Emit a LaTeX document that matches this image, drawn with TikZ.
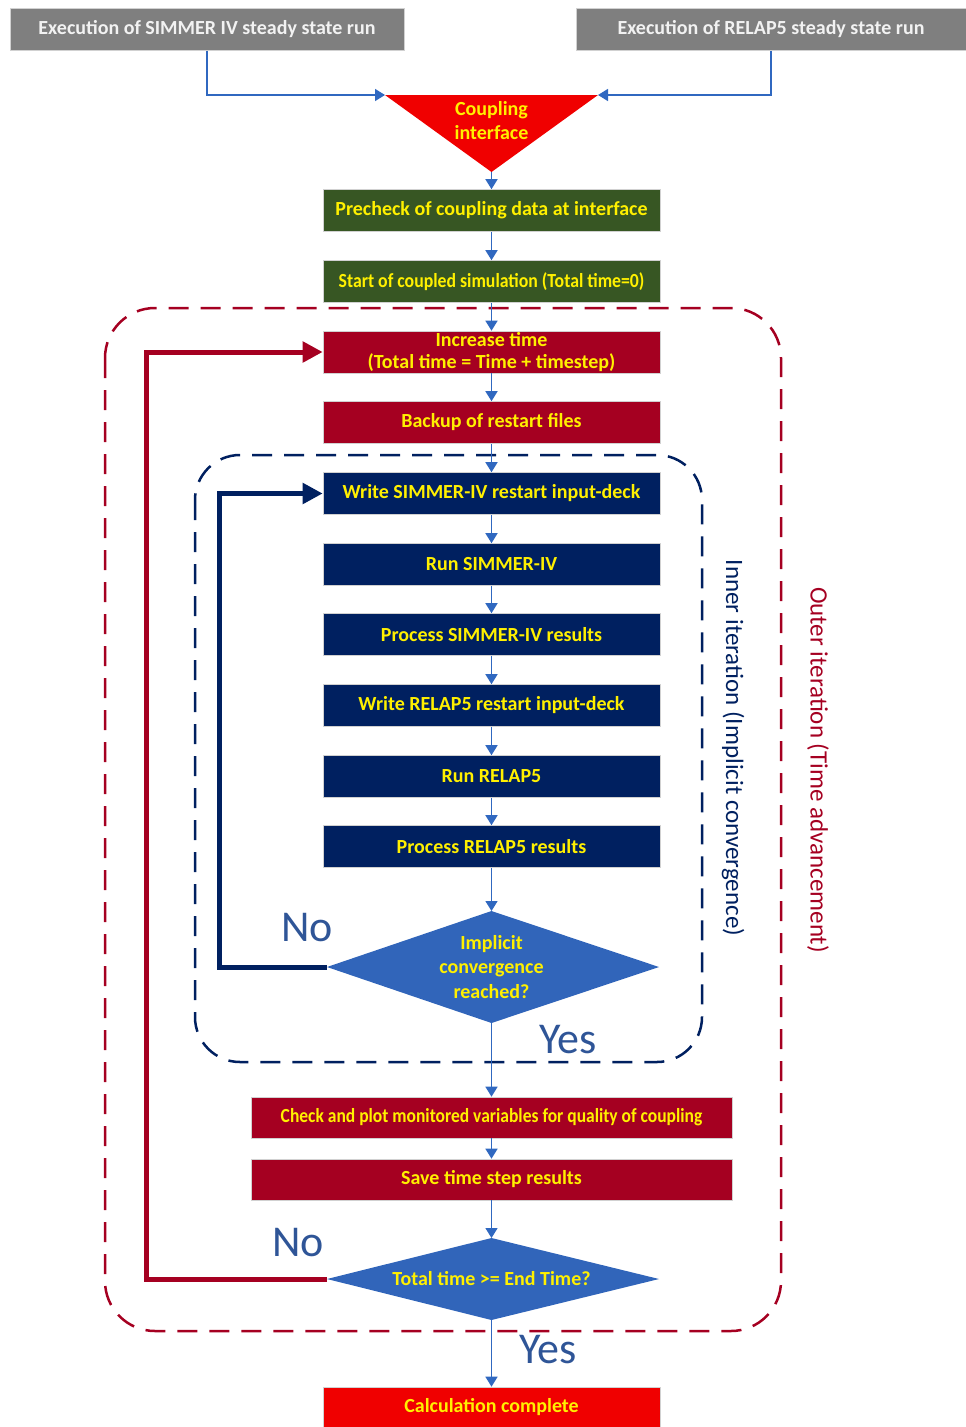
\documentclass[tikz,border=0pt]{standalone}
\usepackage{fontspec}
\setmainfont{Carlito}
\usetikzlibrary{arrows.meta}
\definecolor{grayb}{HTML}{7F7F7F}
\definecolor{graytxt}{HTML}{F2F2F2}
\definecolor{ylw}{HTML}{FFF000}
\definecolor{dgreen}{HTML}{375623}
\definecolor{dred}{HTML}{A50021}
\definecolor{navy}{HTML}{002060}
\definecolor{bred}{HTML}{F00000}
\definecolor{blin}{HTML}{3068C0}
\definecolor{dia}{HTML}{3165BA}
\definecolor{lbl}{HTML}{2F5597}
\begin{document}
\begin{tikzpicture}[x=1pt,y=-1pt,
  box/.style={rectangle, minimum width=337pt, minimum height=42pt, inner sep=0pt,
    text=ylw, font=\bfseries\fontsize{20}{22}\selectfont, align=center,
    draw=white!82!black, line width=0.6pt},
  flow/.style={draw=blin, line width=1.5pt, -{Triangle[width=12pt,length=10pt]}},
  loopn/.style={draw=navy, line width=5pt, -{Triangle[width=20pt,length=20pt]}},
  loopr/.style={draw=dred, line width=5pt, -{Triangle[width=20pt,length=20pt]}},
  yn/.style={text=lbl, font=\fontsize{44}{48}\selectfont, inner sep=0pt},
  dtext/.style={text=ylw, font=\bfseries\fontsize{20}{24.5}\selectfont, align=center, inner sep=0pt},
  side/.style={rotate=-90, font=\fontsize{25}{28}\selectfont, inner sep=0pt}
]
\useasboundingbox (0,0) rectangle (966,1427);

% frames
\draw[dred, line width=2.5pt, dash pattern=on 20pt off 12pt, rounded corners=50pt] (105,308) rectangle (781,1331);
\draw[navy, line width=2.5pt, dash pattern=on 20pt off 12pt, rounded corners=45pt] (195,455) rectangle (702,1062);

% top boxes
\node[box, fill=grayb, text=graytxt, minimum width=394pt] (s4) at (207,29.5) {Execution of SIMMER IV steady state run};
\node[box, fill=grayb, text=graytxt, minimum width=390pt] (r5) at (771,29.5) {Execution of RELAP5 steady state run};

% coupling triangle
\coordinate (tl) at (385,95);
\coordinate (tr) at (598,95);
\coordinate (tb) at (491.5,172);
\fill[bred] (tl) -- (tr) -- (tb) -- cycle;
\node[dtext, font=\bfseries\fontsize{20}{24}\selectfont] (ci) at (491.5,120.5) {Coupling\\interface};

\node[box, fill=dgreen] (g1) at (491.5,210.5) {Precheck of coupling data at interface};
\node[box, fill=dgreen] (g2) at (491.5,281.5) {\scalebox{0.887}[1]{Start of coupled simulation (Total time=0)}};
\node[box, fill=dred] (inc) at (491.5,352) {Increase time\\(Total time = Time + timestep)};
\node[box, fill=dred] (bak) at (491.5,422.5) {Backup of restart files};
\node[box, fill=navy] (w1) at (491.5,493.5) {Write SIMMER-IV restart input-deck};
\node[box, fill=navy] (run1) at (491.5,564.5) {Run SIMMER-IV};
\node[box, fill=navy] (p1) at (491.5,634.5) {Process SIMMER-IV results};
\node[box, fill=navy] (w2) at (491.5,705.5) {Write RELAP5 restart input-deck};
\node[box, fill=navy] (run2) at (491.5,776.5) {Run RELAP5};
\node[box, fill=navy] (p2) at (491.5,846.5) {Process RELAP5 results};

% diamond 1
\coordinate (d1t) at (491.5,911);
\coordinate (d1l) at (327,967);
\coordinate (d1r) at (659,967);
\coordinate (d1b) at (491.5,1023);
\fill[dia] (d1t) -- (d1r) -- (d1b) -- (d1l) -- cycle;
\node[dtext] (d1) at (491.5,967) {Implicit\\convergence\\reached?};

\node[box, fill=dred, minimum width=481pt, minimum height=41pt] (chk) at (491.5,1117.5) {\scalebox{0.875}[1]{Check and plot monitored variables for quality of coupling}};
\node[box, fill=dred, minimum width=481pt, minimum height=41pt] (sav) at (491.5,1179.5) {Save time step results};

% diamond 2
\coordinate (d2t) at (491.5,1238);
\coordinate (d2l) at (327,1279);
\coordinate (d2r) at (659,1279);
\coordinate (d2b) at (491.5,1320);
\fill[dia] (d2t) -- (d2r) -- (d2b) -- (d2l) -- cycle;
\node[dtext] (d2) at (491.5,1279) {Total time >= End Time?};

\node[box, fill=bred, minimum height=40pt] (calc) at (491.5,1407) {Calculation complete};

% connectors
\draw[flow] (s4.south) |- (tl);
\draw[flow] (r5.south) |- (tr);
\draw[flow] (tb) -- (g1.north);
\draw[flow] (g1) -- (g2);
\draw[flow] (g2) -- (inc);
\draw[flow] (inc) -- (bak);
\draw[flow] (bak) -- (w1);
\draw[flow] (w1) -- (run1);
\draw[flow] (run1) -- (p1);
\draw[flow] (p1) -- (w2);
\draw[flow] (w2) -- (run2);
\draw[flow] (run2) -- (p2);
\draw[flow] (p2.south) -- (d1t);
\draw[flow] (d1b) -- (chk.north);
\draw[flow] (chk) -- (sav);
\draw[flow] (sav.south) -- (d2t);
\draw[flow] (d2b) -- (calc.north);

\draw[loopn] (d1l) -- ++(-108,0) |- (w1.west);
\draw[loopr] (d2l) -- ++(-181,0) |- (inc.west);

% labels
\node[yn] at (307,928) {No};
\node[yn] at (568,1040) {Yes};
\node[yn] at (298,1243) {No};
\node[yn] at (548,1350) {Yes};

\node[side, text=navy] at (733,748) {Inner iteration (Implicit convergence)};
\node[side, text=dred] at (818,770) {Outer iteration (Time advancement)};
\end{tikzpicture}
\end{document}
